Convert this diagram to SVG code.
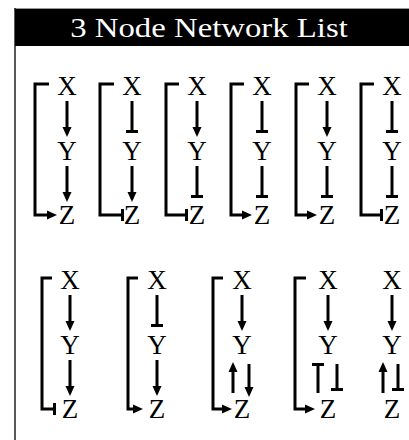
<svg xmlns="http://www.w3.org/2000/svg" width="409" height="440" viewBox="0 0 409 440">
<style>
.lb{font-family:"Liberation Serif","Times New Roman",serif;font-size:27px;text-anchor:middle;fill:#000}
.ln{stroke:#000;stroke-width:3;fill:none}
.ar{marker-end:url(#arr)}
.inh{marker-end:url(#tee)}
</style>
<defs>
<marker id="arr" markerUnits="userSpaceOnUse" markerWidth="10" markerHeight="9" refX="4" refY="4.5" orient="auto" overflow="visible">
<path d="M0,0 L10,4.5 L0,9 Z" fill="#000"/>
</marker>
<marker id="tee" markerUnits="userSpaceOnUse" markerWidth="3" markerHeight="12" refX="0" refY="6" orient="auto" overflow="visible">
<rect x="0" y="0" width="3" height="12" fill="#000"/>
</marker>
</defs>
<rect x="0" y="0" width="409" height="440" fill="#fff"/>
<g id="frame">
<line x1="14" y1="8.5" x2="409" y2="8.5" stroke="#999" stroke-width="1"/>
<line x1="15" y1="8" x2="15" y2="440" stroke="#222" stroke-width="1.5"/>
<rect x="15" y="9" width="394" height="37" fill="#000"/>
<text transform="translate(209,37) scale(1.17,1)" x="0" y="0" font-family="'Liberation Serif','Times New Roman',serif" font-size="28" fill="#fff" text-anchor="middle">3 Node Network List</text>
</g>
<!-- Row 1 -->
<g id="n1"><text class="lb" x="67" y="95">X</text><text class="lb" x="67" y="160">Y</text><text class="lb" x="67" y="224">Z</text></g>
<g id="n2"><text class="lb" x="132" y="95">X</text><text class="lb" x="132" y="160">Y</text><text class="lb" x="132" y="224">Z</text></g>
<g id="n3"><text class="lb" x="197" y="95">X</text><text class="lb" x="197" y="160">Y</text><text class="lb" x="197" y="224">Z</text></g>
<g id="n4"><text class="lb" x="262" y="95">X</text><text class="lb" x="262" y="160">Y</text><text class="lb" x="262" y="224">Z</text></g>
<g id="n5"><text class="lb" x="327" y="95">X</text><text class="lb" x="327" y="160">Y</text><text class="lb" x="327" y="224">Z</text></g>
<g id="n6"><text class="lb" x="392" y="95">X</text><text class="lb" x="392" y="160">Y</text><text class="lb" x="392" y="224">Z</text></g>
<!-- Row 2 -->
<g id="n7"><text class="lb" x="70" y="289">X</text><text class="lb" x="70" y="354">Y</text><text class="lb" x="70" y="418">Z</text></g>
<g id="n8"><text class="lb" x="157" y="289">X</text><text class="lb" x="157" y="354">Y</text><text class="lb" x="157" y="418">Z</text></g>
<g id="n9"><text class="lb" x="242" y="289">X</text><text class="lb" x="242" y="354">Y</text><text class="lb" x="242" y="418">Z</text></g>
<g id="n10"><text class="lb" x="328" y="289">X</text><text class="lb" x="328" y="354">Y</text><text class="lb" x="328" y="418">Z</text></g>
<g id="n11"><text class="lb" x="392" y="289">X</text><text class="lb" x="392" y="354">Y</text><text class="lb" x="392" y="418">Z</text></g>
<g id="connectors">
<!-- row 1 col 1 -->
<path class="ln ar" d="M67,101 V131"/>
<path class="ln ar" d="M67,166 V196"/>
<path class="ln ar" d="M49,84 H35 V215 H51"/>
<!-- col 2 -->
<path class="ln inh" d="M132,101 V130"/>
<path class="ln ar" d="M132,166 V196"/>
<path class="ln inh" d="M114,84 H100 V215 H121"/>
<!-- col 3 -->
<path class="ln ar" d="M197,101 V131"/>
<path class="ln inh" d="M197,166 V195"/>
<path class="ln inh" d="M179,84 H166 V215 H185"/>
<!-- col 4 -->
<path class="ln inh" d="M262,101 V130"/>
<path class="ln inh" d="M262,166 V195"/>
<path class="ln ar" d="M244,84 H231 V215 H246"/>
<!-- col 5 -->
<path class="ln ar" d="M327,101 V131"/>
<path class="ln inh" d="M327,166 V195"/>
<path class="ln ar" d="M309,84 H296 V215 H311"/>
<!-- col 6 -->
<path class="ln inh" d="M392,101 V130"/>
<path class="ln inh" d="M392,166 V195"/>
<path class="ln inh" d="M374,84 H361 V215 H380"/>
<!-- row 2 col 1 -->
<path class="ln ar" d="M70,295 V325"/>
<path class="ln ar" d="M70,360 V390"/>
<path class="ln inh" d="M52,278 H42 V409 H53"/>
<!-- col 2 -->
<path class="ln inh" d="M157,295 V324"/>
<path class="ln ar" d="M157,360 V390"/>
<path class="ln ar" d="M138,278 H128 V409 H137"/>
<!-- col 3 -->
<path class="ln ar" d="M242,295 V325"/>
<path class="ln ar" d="M233,393 V368"/>
<path class="ln ar" d="M249,364 V391"/>
<path class="ln ar" d="M223,278 H213 V409 H226"/>
<!-- col 4 -->
<path class="ln ar" d="M328,295 V325"/>
<path class="ln inh" d="M318,393 V366"/>
<path class="ln inh" d="M337,364 V388"/>
<path class="ln ar" d="M306,278 H295 V409 H309"/>
<!-- col 5 -->
<path class="ln ar" d="M392,295 V325"/>
<path class="ln ar" d="M383,393 V368"/>
<path class="ln inh" d="M398,364 V388"/>
</g>
</svg>
